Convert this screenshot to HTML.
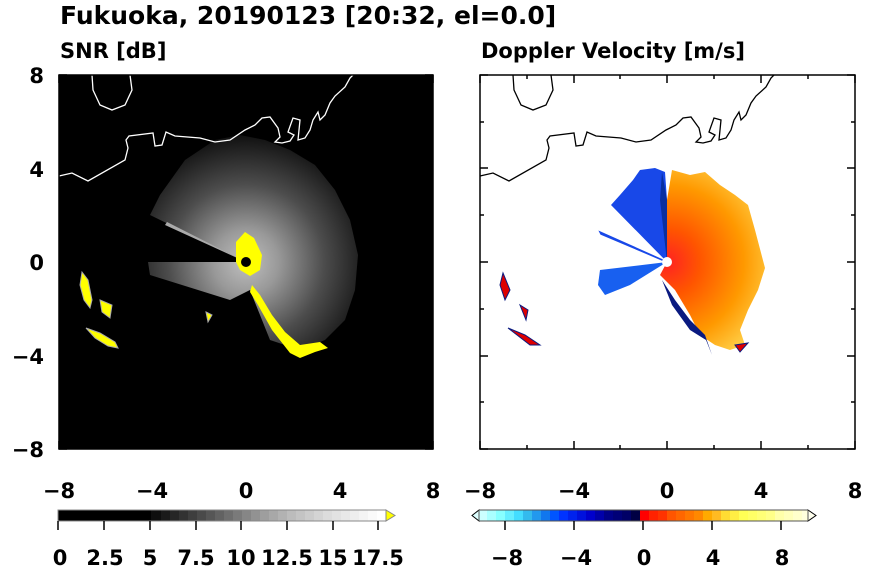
<!DOCTYPE html>
<html><head><meta charset="utf-8"><style>
body{margin:0;background:#fff;width:870px;height:570px;overflow:hidden}
text{font-family:"DejaVu Sans","Liberation Sans",sans-serif;font-weight:bold;fill:#000}
</style></head><body>
<svg width="870" height="570" xmlns="http://www.w3.org/2000/svg">
<defs>
<radialGradient id="fan" cx="246" cy="262" r="130" gradientUnits="userSpaceOnUse">
<stop offset="0" stop-color="#fff"/><stop offset="0.25" stop-color="#ccc"/><stop offset="0.6" stop-color="#666"/><stop offset="1" stop-color="#111"/></radialGradient>
<radialGradient id="warm" cx="667" cy="262" r="110" gradientUnits="userSpaceOnUse">
<stop offset="0" stop-color="#f22"/><stop offset="0.3" stop-color="#f50"/><stop offset="0.7" stop-color="#f90"/><stop offset="1" stop-color="#fc4"/></radialGradient>
</defs>
<text x="60" y="24" font-size="25">Fukuoka, 20190123 [20:32, el=0.0]</text>
<text x="60" y="58" font-size="21">SNR [dB]</text>
<text x="481" y="58" font-size="21">Doppler Velocity [m/s]</text>
<!-- left panel -->
<rect x="59" y="75" width="374" height="374" fill="#000"/>
<path d="M246,262 L150,215 L160,195 L185,160 L215,140 L240,135 L265,140 L290,150 L315,165 L335,190 L350,220 L358,255 L355,290 L345,320 L325,340 L300,350 L270,340 L250,290 L230,300 L150,275 L148,262 Z" fill="url(#fan)" opacity="0.75"/>
<path d="M246,262 L165,225 L167,222 Z" fill="#aaa"/>
<path d="M236,242 L245,232 L254,238 L262,255 L260,270 L250,276 L240,270 L236,262 Z" fill="#ff0"/>
<path d="M252,285 L260,295 L272,315 L285,332 L300,345 L320,342 L328,348 L315,352 L300,358 L290,353 L272,330 L258,305 L250,292 Z" fill="#ff0"/>
<path d="M82,272 L88,280 L92,300 L90,308 L84,300 L80,285 Z M100,300 L112,305 L110,318 L102,312 Z M86,328 L100,333 L115,342 L118,348 L108,346 L95,338 Z M206,312 L212,315 L208,322 Z" fill="#ff0" stroke="#aaa" stroke-width="1"/>
<circle cx="246" cy="262" r="5" fill="#000"/>
<g fill="none" stroke="#fff" stroke-width="1.3">
<path d="M59,176 L72,173 L88,181 L125,160 L128,148 L126,140 L129,136 L153,133 L155,146 L162,145 L166,132 L175,136 L200,138 L215,142 L230,140 L245,130 L255,125 L262,118 L270,117 L278,128 L280,137 L275,142 L282,143 L290,141 L294,135 L288,132 L293,118 L300,120 L298,140 L305,138 L310,130 L313,120 L318,112 L320,120 L325,115 L330,103 L335,96 L345,87 L350,78 L353,75"/>
<path d="M92,75 L93,90 L100,105 L112,110 L125,105 L132,90 L130,75"/>
</g>
<rect x="59" y="75" width="374" height="374" fill="none" stroke="#000" stroke-width="1.5"/>
<!-- right panel -->
<path d="M667,262 L667,200 L672,170 L690,175 L705,172 L720,185 L735,195 L748,205 L755,230 L765,268 L758,290 L748,310 L740,330 L745,345 L730,350 L715,345 L700,335 L690,315 L675,290 L660,275 Z" fill="url(#warm)"/>
<path d="M667,262 L611,205 L620,195 L633,180 L640,170 L655,168 L665,172 L667,200 Z" fill="#1848e8"/>
<path d="M667,262 L660,200 L662,172 L667,200 Z" fill="#0a2fa0"/>
<path d="M667,262 L600,270 L598,285 L605,295 L630,285 Z" fill="#1860f0"/>
<path d="M667,262 L600,232 L601,234 Z" stroke="#1848e8" stroke-width="1.5"/>
<path d="M662,280 L675,300 L690,320 L705,335 L712,355 L706,340 L690,330 L672,305 Z" fill="#0a1a80"/>
<path d="M503,273 L510,290 L505,300 L500,285 Z M520,305 L528,310 L526,320 Z M508,328 L525,335 L540,345 L530,345 Z M735,345 L748,343 L740,352 Z" fill="#d00" stroke="#0a1a80" stroke-width="1"/>
<circle cx="667" cy="262" r="5" fill="#fff"/>
<g fill="none" stroke="#000" stroke-width="1.3" transform="translate(421,0)">
<path d="M59,176 L72,173 L88,181 L125,160 L128,148 L126,140 L129,136 L153,133 L155,146 L162,145 L166,132 L175,136 L200,138 L215,142 L230,140 L245,130 L255,125 L262,118 L270,117 L278,128 L280,137 L275,142 L282,143 L290,141 L294,135 L288,132 L293,118 L300,120 L298,140 L305,138 L310,130 L313,120 L318,112 L320,120 L325,115 L330,103 L335,96 L345,87 L350,78 L353,75"/>
<path d="M92,75 L93,90 L100,105 L112,110 L125,105 L132,90 L130,75"/>
</g>
<rect x="480" y="75" width="375" height="374" fill="none" stroke="#000" stroke-width="1.5"/>
<!-- ticks -->
<g stroke="#000" stroke-width="1.5">
<path d="M59,75v8M106,75v4M152,75v8M199,75v4M246,75v8M293,75v4M340,75v8M386,75v4M433,75v8 M59,449v-8M106,449v-4M152,449v-8M199,449v-4M246,449v-8M293,449v-4M340,449v-8M386,449v-4M433,449v-8
M59,75h8M59,122h4M59,168h8M59,215h4M59,262h8M59,309h4M59,356h8M59,402h4M59,449h8 M433,75h-8M433,122h-4M433,168h-8M433,215h-4M433,262h-8M433,309h-4M433,356h-8M433,402h-4M433,449h-8"/>
<path d="M480,75v8M527,75v4M574,75v8M620,75v4M667,75v8M714,75v4M761,75v8M808,75v4M855,75v8 M480,449v-8M527,449v-4M574,449v-8M620,449v-4M667,449v-8M714,449v-4M761,449v-8M808,449v-4M855,449v-8
M480,75h8M480,122h4M480,168h8M480,215h4M480,262h8M480,309h4M480,356h8M480,402h4M480,449h8 M855,75h-8M855,122h-4M855,168h-8M855,215h-4M855,262h-8M855,309h-4M855,356h-8M855,402h-4M855,449h-8"/>
</g>
<g font-size="21" text-anchor="end">
<text x="44" y="83">8</text><text x="44" y="177">4</text><text x="44" y="270">0</text><text x="44" y="364">−4</text><text x="44" y="457">−8</text>
</g>
<g font-size="21" text-anchor="middle">
<text x="59" y="498">−8</text><text x="152" y="498">−4</text><text x="246" y="498">0</text><text x="340" y="498">4</text><text x="433" y="498">8</text>
<text x="480" y="498">−8</text><text x="574" y="498">−4</text><text x="667" y="498">0</text><text x="761" y="498">4</text><text x="855" y="498">8</text>
</g>
<!-- left colorbar -->
<rect x="58" y="510" width="93" height="11" fill="#000"/>
<g>
<rect x="151" y="510" width="10" height="11" fill="#0e0e0e"/><rect x="161" y="510" width="9" height="11" fill="#1a1a1a"/><rect x="170" y="510" width="9" height="11" fill="#262626"/><rect x="179" y="510" width="9" height="11" fill="#323232"/><rect x="188" y="510" width="9" height="11" fill="#3e3e3e"/><rect x="197" y="510" width="9" height="11" fill="#4a4a4a"/><rect x="206" y="510" width="9" height="11" fill="#565656"/><rect x="215" y="510" width="9" height="11" fill="#626262"/><rect x="224" y="510" width="9" height="11" fill="#6e6e6e"/><rect x="233" y="510" width="9" height="11" fill="#7a7a7a"/><rect x="242" y="510" width="9" height="11" fill="#868686"/><rect x="251" y="510" width="9" height="11" fill="#929292"/><rect x="260" y="510" width="9" height="11" fill="#9e9e9e"/><rect x="269" y="510" width="9" height="11" fill="#a8a8a8"/><rect x="278" y="510" width="9" height="11" fill="#b2b2b2"/><rect x="287" y="510" width="9" height="11" fill="#bcbcbc"/><rect x="296" y="510" width="9" height="11" fill="#c4c4c4"/><rect x="305" y="510" width="9" height="11" fill="#cccccc"/><rect x="314" y="510" width="9" height="11" fill="#d4d4d4"/><rect x="323" y="510" width="9" height="11" fill="#dcdcdc"/><rect x="332" y="510" width="9" height="11" fill="#e2e2e2"/><rect x="341" y="510" width="9" height="11" fill="#e8e8e8"/><rect x="350" y="510" width="9" height="11" fill="#eeeeee"/><rect x="359" y="510" width="9" height="11" fill="#f4f4f4"/><rect x="368" y="510" width="9" height="11" fill="#fafafa"/><rect x="377" y="510" width="9" height="11" fill="#fff"/>
</g>
<path d="M386,510 L395,515.5 L386,521 Z" fill="#ff0" stroke="#888"/>
<rect x="58" y="510" width="328" height="11" fill="none" stroke="#888"/>
<path d="M58,521v9M104,521v9M150,521v9M196,521v9M241,521v9M287,521v9M333,521v9M378,521v9" stroke="#000" stroke-width="1.5"/>
<g font-size="21" text-anchor="middle">
<text x="60" y="565">0</text><text x="105" y="565">2.5</text><text x="150" y="565">5</text><text x="196" y="565">7.5</text><text x="241" y="565">10</text><text x="287" y="565">12.5</text><text x="333" y="565">15</text><text x="378" y="565">17.5</text>
</g>
<!-- right colorbar -->
<g>
<rect x="479" y="510" width="8" height="11" fill="#cff"/><rect x="487" y="510" width="9" height="11" fill="#aff"/><rect x="496" y="510" width="9" height="11" fill="#8ff"/><rect x="505" y="510" width="9" height="11" fill="#6ef"/><rect x="514" y="510" width="9" height="11" fill="#4df"/><rect x="523" y="510" width="9" height="11" fill="#3be"/><rect x="532" y="510" width="9" height="11" fill="#29e"/><rect x="541" y="510" width="9" height="11" fill="#17e"/><rect x="550" y="510" width="9" height="11" fill="#05f"/><rect x="559" y="510" width="9" height="11" fill="#03f"/><rect x="568" y="510" width="9" height="11" fill="#02e"/><rect x="577" y="510" width="9" height="11" fill="#01d"/><rect x="586" y="510" width="9" height="11" fill="#00c"/><rect x="595" y="510" width="9" height="11" fill="#00a"/><rect x="604" y="510" width="9" height="11" fill="#008"/><rect x="613" y="510" width="9" height="11" fill="#007"/><rect x="622" y="510" width="9" height="11" fill="#006"/><rect x="631" y="510" width="9" height="11" fill="#004"/><rect x="640" y="510" width="9" height="11" fill="#f00"/><rect x="649" y="510" width="9" height="11" fill="#f20"/><rect x="658" y="510" width="9" height="11" fill="#f30"/><rect x="667" y="510" width="9" height="11" fill="#f50"/><rect x="676" y="510" width="9" height="11" fill="#f60"/><rect x="685" y="510" width="9" height="11" fill="#f70"/><rect x="694" y="510" width="9" height="11" fill="#f80"/><rect x="703" y="510" width="9" height="11" fill="#fa0"/><rect x="712" y="510" width="9" height="11" fill="#fb2"/><rect x="721" y="510" width="9" height="11" fill="#fd3"/><rect x="730" y="510" width="9" height="11" fill="#fe4"/><rect x="739" y="510" width="9" height="11" fill="#ff5"/><rect x="748" y="510" width="9" height="11" fill="#ff6"/><rect x="757" y="510" width="9" height="11" fill="#ff7"/><rect x="766" y="510" width="9" height="11" fill="#ff8"/><rect x="775" y="510" width="9" height="11" fill="#ffa"/><rect x="784" y="510" width="9" height="11" fill="#ffb"/><rect x="793" y="510" width="9" height="11" fill="#ffc"/><rect x="802" y="510" width="6" height="11" fill="#ffd"/>
</g>
<path d="M479,510 L472,515.5 L479,521 Z" fill="#dff" stroke="#000"/>
<path d="M808,510 L816,515.5 L808,521 Z" fill="#ffe" stroke="#000"/>
<rect x="479" y="510" width="329" height="11" fill="none" stroke="#555"/>
<path d="M505,521v9M574,521v9M643,521v9M712,521v9M781,521v9" stroke="#000" stroke-width="1.5"/>
<g font-size="21" text-anchor="middle">
<text x="507" y="565">−8</text><text x="576" y="565">−4</text><text x="644" y="565">0</text><text x="713" y="565">4</text><text x="782" y="565">8</text>
</g>
</svg>
</body></html>
